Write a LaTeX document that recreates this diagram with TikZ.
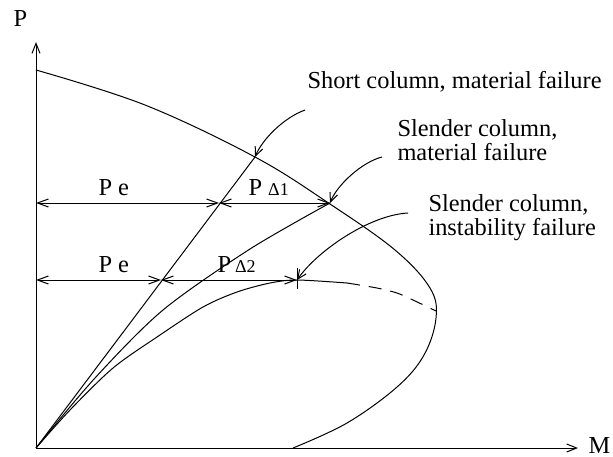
\documentclass[tikz,border=0pt]{standalone}
\usepackage{fontspec}
\setmainfont{Liberation Serif}
\usetikzlibrary{arrows.meta}

\begin{document}
\begin{tikzpicture}[
    x=0.5pt, y=-0.5pt, line width=0.5pt,
    lbl/.style={font=\fontsize{12.2}{12}\selectfont, inner sep=0pt},
    note/.style={lbl, align=left, anchor=north west},
    axis/.style={-{Straight Barb[length=5pt,width=4pt]}},
    dim/.style={{Straight Barb[length=5.5pt,width=4pt]}-{Straight Barb[length=5.5pt,width=4pt]}},
    pointer/.style={-{Straight Barb[length=4.5pt,width=4pt]}}
  ]
    \useasboundingbox (0,0) rectangle (613,456);
    \newcommand{\smallD}[1]{{\fontsize{9}{9}\selectfont Δ#1}}
    % points
    \coordinate (O) at (36,448);
    \coordinate (Ptop) at (36,42);
    \coordinate (Mend) at (578,448);
    \coordinate (A) at (255,157);
    \coordinate (B) at (330,203);
    \coordinate (C) at (297,280);
    \coordinate (e1) at (219,203);
    \coordinate (e2) at (161,280);
    \coordinate (y1) at (36,203);
    \coordinate (y2) at (36,280);
    \coordinate (sA) at (305,110);
    \coordinate (sB) at (382,157);
    \coordinate (sC) at (408,213);
    % axes
    \draw[axis] (O) -- (Ptop);
    \draw[axis] (O) -- (Mend);
    \node[lbl, anchor=base west] (P) at (13,26) {P};
    \node[lbl, anchor=base west] (M) at (588,453) {M};
    % interaction curve
    \draw plot[smooth, tension=0.6] coordinates {(36,70) (145,105) (A) (330,204)
      (395,250) (430,288) (436,318) (424,355) (397,387) (347,423) (293,448)};
    % load paths
    \draw (O) -- (A);
    \draw plot[smooth] coordinates {(O) (95,378) (163,310) (250,249) (B)};
    \draw plot[smooth] coordinates {(O) (70,410) (113,368) (157,337) (203,307) (237,292) (270,283) (C) (347,283)};
    \draw[dash pattern=on 6.5pt off 4.5pt] plot[smooth] coordinates {(347,283) (377,288) (397,293) (413,300) (436,311)};
    \draw ([yshift=6pt]C) -- ([yshift=-4.5pt]C);
    % moments
    \draw[dim] (y1) -- (e1);
    \draw[dim] (e1) -- (B);
    \draw[dim] (y2) -- (e2);
    \draw[dim] (e2) -- (C);
    \node[lbl, anchor=base west] (pe1) at (98,195) {P e};
    \node[lbl, anchor=base west] (pd1) at (248,195) {P \smallD{1}};
    \node[lbl, anchor=base west] (pe2) at (98,272) {P e};
    \node[lbl, anchor=base west] (pd2) at (217,272) {P\,\smallD{2}};
    % failure notes
    \node[lbl, anchor=base west] (nA) at (307,88) {Short column, material failure};
    \node[note] (nB) at (397,119) {Slender column,\\material failure};
    \node[note] (nC) at (428,194) {Slender column,\\instability failure};
    \draw[pointer] (sA) .. controls (283,118) and (262,140) .. (A);
    \draw[pointer] (sB) .. controls (362,162) and (337,185) .. (B);
    \draw[pointer] (sC) .. controls (370,215) and (318,250) .. (C);
  \end{tikzpicture}
\end{document}
